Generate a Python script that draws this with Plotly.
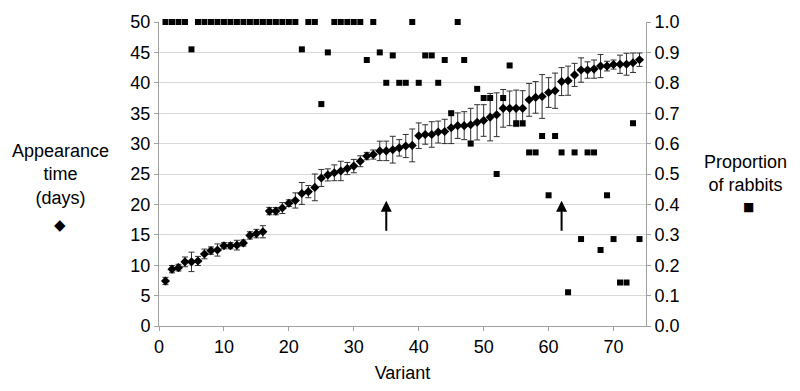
import plotly.graph_objects as go

variants = list(range(1, 75))
days = [7.4, 9.35, 9.6, 10.55, 10.55, 10.7, 11.85, 12.4, 12.5, 13.2,
        13.2, 13.3, 13.65, 14.9, 15.2, 15.5, 18.9, 18.9, 19.4, 20.2,
        20.65, 21.8, 22.1, 22.8, 24.35, 24.85, 25.2, 25.5, 25.9, 26.3,
        27.1, 27.95, 28.2, 28.8, 28.8, 29.0, 29.3, 29.6, 29.7, 31.3,
        31.5, 31.5, 31.9, 32.0, 32.6, 32.95, 32.95, 33.1, 33.5, 33.8,
        34.35, 34.75, 35.8, 35.8, 35.8, 35.8, 37.2, 37.6, 37.75, 38.4,
        38.7, 40.2, 40.35, 41.3, 42.1, 42.1, 42.25, 42.75, 42.75, 43.0,
        43.05, 43.05, 43.3, 43.8]
days_err = [0.6, 0.6, 0.55, 0.8, 1.6, 0.75, 0.8, 0.6, 1.0, 0.5,
            0.5, 0.8, 0.5, 0.6, 0.7, 1.0, 0.6, 0.6, 0.9, 0.55,
            1.25, 1.8, 1.0, 2.2, 1.4, 1.0, 1.3, 1.6, 1.0, 1.1,
            0.9, 0.6, 0.75, 1.6, 1.6, 2.2, 1.35, 1.9, 2.7, 2.1,
            1.6, 2.1, 1.8, 2.0, 2.6, 2.1, 2.3, 2.7, 2.9, 2.6,
            3.9, 3.6, 3.1, 2.85, 3.0, 2.9, 2.7, 2.6, 3.6, 2.45,
            2.9, 2.3, 2.4, 1.9, 2.0, 1.35, 1.5, 1.9, 0.8, 0.75,
            1.5, 1.8, 1.6, 1.1]
proportion = [1, 1, 1, 1, 0.91, 1, 1, 1, 1, 1,
              1, 1, 1, 1, 1, 1, 1, 1, 1, 1,
              1, 0.91, 1, 1, 0.73, 0.9, 1, 1, 1, 1,
              1, 0.875, 1, 0.9, 0.8, 0.89, 0.8, 0.8, 1, 0.8,
              0.89, 0.89, 0.8, 0.875, 0.7, 1, 0.875, 0.6, 0.78, 0.75,
              0.75, 0.5, 0.75, 0.857, 0.667, 0.667, 0.571, 0.571, 0.625, 0.43,
              0.625, 0.571, 0.111, 0.571, 0.286, 0.571, 0.571, 0.25, 0.43, 0.286,
              0.143, 0.143, 0.667, 0.286]
arrow_variants = [35, 62]

FONT = "Liberation Sans, Arial, sans-serif"
L, R, T, B = 159, 154, 22, 63
PW, PH = 800 - L - R, 391 - T - B


def px(xp):
    return (xp - L) / PW


def py(yp):
    return (391 - B - yp) / PH


fig = go.Figure()
fig.add_trace(go.Scatter(
    x=variants, y=days, mode="markers",
    marker=dict(symbol="diamond", size=7, color="black"),
    error_y=dict(type="data", array=days_err, visible=True,
                 color="#303030", thickness=1, width=3),
    yaxis="y", showlegend=False, cliponaxis=False))
fig.add_trace(go.Scatter(
    x=variants, y=proportion, mode="markers",
    marker=dict(symbol="square", size=6, color="black"),
    yaxis="y2", showlegend=False, cliponaxis=False))

for av in arrow_variants:
    fig.add_annotation(x=av, y=20.6, ax=av, ay=15.4, xref="x", yref="y",
                       axref="x", ayref="y", showarrow=True, arrowhead=2,
                       arrowsize=1.1, arrowwidth=2, arrowcolor="black", text="")

fig.add_annotation(text="Appearance<br>time<br>(days)", xref="paper", yref="paper",
                   x=px(60), y=py(175.5), xanchor="center", yanchor="middle",
                   showarrow=False, align="center",
                   font=dict(family=FONT, size=18, color="black"))
fig.add_annotation(text="◆", xref="paper", yref="paper",
                   x=px(60), y=py(226), xanchor="center", yanchor="middle",
                   showarrow=False,
                   font=dict(family="DejaVu Sans", size=15, color="black"))
fig.add_annotation(text="Proportion<br>of rabbits", xref="paper", yref="paper",
                   x=px(745), y=py(174), xanchor="center", yanchor="middle",
                   showarrow=False, align="center",
                   font=dict(family=FONT, size=18, color="black"))
fig.add_annotation(text="■", xref="paper", yref="paper",
                   x=px(748), y=py(208), xanchor="center", yanchor="middle",
                   showarrow=False,
                   font=dict(family="DejaVu Sans", size=12, color="black"))

axis_common = dict(showline=True, linecolor="#a0a0a0", linewidth=1,
                   ticks="outside", ticklen=4, tickcolor="#a0a0a0",
                   tickfont=dict(family=FONT, size=18, color="black"),
                   zeroline=False)

fig.update_layout(
    width=800, height=391,
    margin=dict(l=L, r=R, t=T, b=B),
    plot_bgcolor="white", paper_bgcolor="white",
    xaxis=dict(range=[0, 75], dtick=10, tick0=0, showgrid=False,
               title=dict(text="Variant", font=dict(family=FONT, size=18, color="black"),
                          standoff=10),
               **axis_common),
    yaxis=dict(range=[0, 50], dtick=5, showgrid=True, gridcolor="#d9d9d9",
               gridwidth=1, **axis_common),
    yaxis2=dict(range=[0, 1], dtick=0.1, tickformat=".1f", overlaying="y",
                side="right", showgrid=False, **axis_common),
)

fig.write_html("out.html", config={"displayModeBar": False},
               post_script="document.body.style.margin='0';document.body.style.overflow='hidden';")
